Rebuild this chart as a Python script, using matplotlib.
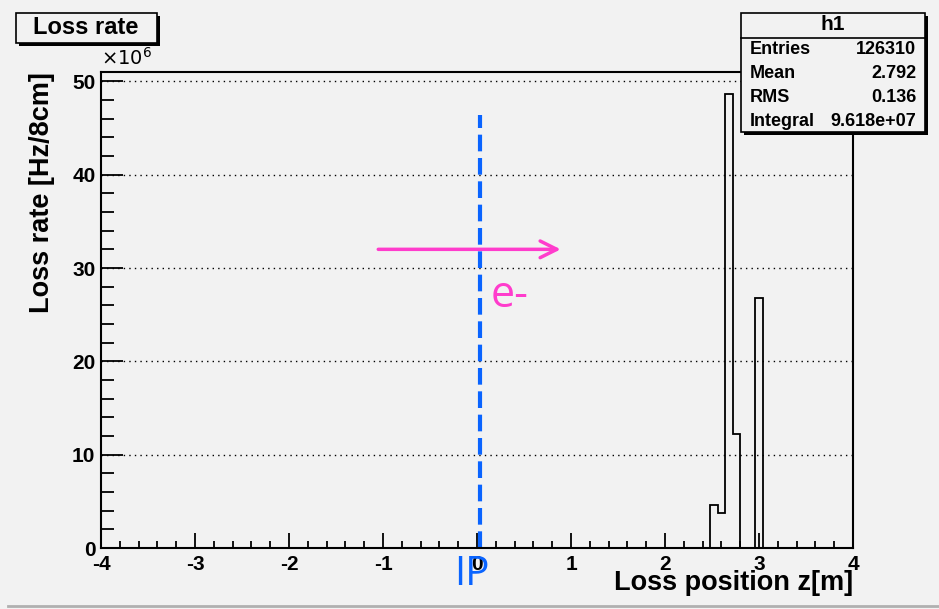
import numpy as np
import matplotlib.pyplot as plt
from matplotlib.patches import Rectangle
from matplotlib.lines import Line2D
from matplotlib.ticker import MultipleLocator

# loss rate per 8cm bin, in units of 1e6 Hz
bin_edges = [2.48, 2.56, 2.64, 2.72, 2.80, 2.88, 2.96, 3.04]
loss_rate = [4.6, 3.7, 48.6, 12.2, 0.0, 0.0, 26.8]

stat_names = ["Entries", "Mean", "RMS", "Integral"]
stat_values = ["126310", "2.792", "0.136", "9.618e+07"]

plt.rcParams['font.family'] = ['Liberation Sans', 'DejaVu Sans']
plt.rcParams['axes.unicode_minus'] = False

bg = '#f2f2f2'
fig = plt.figure(figsize=(9.39, 6.09), dpi=100, facecolor=bg)
ax = fig.add_axes([101/939, 61/609, 752/939, 476/609])
ax.set_facecolor(bg)

ax.stairs(loss_rate, bin_edges, color='black', lw=1.3)

ax.set_xlim(-4, 4)
ax.set_ylim(0, 51)
ax.xaxis.set_major_locator(MultipleLocator(1))
ax.xaxis.set_minor_locator(MultipleLocator(0.2))
ax.yaxis.set_major_locator(MultipleLocator(10))
ax.yaxis.set_minor_locator(MultipleLocator(2))
ax.tick_params(axis='both', which='both', direction='in', width=1.3, colors='black')
ax.tick_params(axis='x', which='major', length=11, labelsize=15, pad=5)
ax.tick_params(axis='x', which='minor', length=5)
ax.tick_params(axis='y', which='major', length=16, labelsize=15, pad=4)
ax.tick_params(axis='y', which='minor', length=9)
for lab in ax.get_xticklabels() + ax.get_yticklabels():
    lab.set_fontweight('bold')
for s in ax.spines.values():
    s.set_linewidth(1.5)

for yv in range(10, 51, 10):
    ax.axhline(yv, color='black', lw=1.0, ls=(0, (1, 3)), zorder=0)

ax.set_xlabel('Loss position z[m]', fontsize=19.5, fontweight='bold', loc='right', labelpad=-3)
ax.set_ylabel('Loss rate [Hz/8cm]', fontsize=19.5, fontweight='bold', loc='top', labelpad=12)

fig.text(101/939, 1 - 58/609, r'$\times10^{6}$', fontsize=14, ha='left', va='center')

# IP marker and beam direction
ax.plot([0.03, 0.03], [0, 46.4], color='#0a64ff', lw=3, ls=(0, (4, 1.6)))
ax.annotate('', xy=(0.92, 32.0), xytext=(-1.08, 32.0),
            arrowprops=dict(arrowstyle='->', color='#ff3ccc', lw=2.5, mutation_scale=30))
ax.text(0.15, 27.0, 'e-', color='#ff3ccc', fontsize=31, family='Open Sans', va='center', ha='left')
fig.text(472/939, 1 - 575/609, 'IP', color='#0a64ff', fontsize=29, family='Open Sans', ha='center', va='center')

# title box
fig.patches.append(Rectangle((19/939, 1 - 46/609), 141/939, 30/609, transform=fig.transFigure,
                             facecolor='black', edgecolor='none'))
fig.patches.append(Rectangle((16/939, 1 - 43/609), 141/939, 30/609, transform=fig.transFigure,
                             facecolor=bg, edgecolor='black', lw=1.2))
fig.text(86/939, 1 - 28/609, 'Loss rate', fontsize=17, fontweight='bold', ha='center', va='center')

# stats box
bx0, bx1, by0, by1 = 741, 925, 13, 132
fig.patches.append(Rectangle(((bx0 + 3)/939, 1 - (by1 + 3)/609), (bx1 - bx0)/939, (by1 - by0)/609,
                             transform=fig.transFigure, facecolor='black', edgecolor='none', zorder=5))
fig.patches.append(Rectangle((bx0/939, 1 - by1/609), (bx1 - bx0)/939, (by1 - by0)/609,
                             transform=fig.transFigure, facecolor=bg, edgecolor='black', lw=1.2, zorder=6))
fig.add_artist(Line2D([bx0/939, bx1/939], [1 - 38/609, 1 - 38/609], color='black', lw=1.2, zorder=7))
fig.text((bx0 + bx1)/2/939, 1 - 25/609, 'h1', fontsize=15, fontweight='bold', ha='center', va='center', zorder=8)
for i, (nm, vl) in enumerate(zip(stat_names, stat_values)):
    yy = 1 - (50 + 24*i)/609
    fig.text((bx0 + 9)/939, yy, nm, fontsize=13, fontweight='bold', ha='left', va='center', zorder=8)
    fig.text((bx1 - 9)/939, yy, vl, fontsize=13, fontweight='bold', ha='right', va='center', zorder=8)

fig.add_artist(Line2D([8/939, 1], [1 - 606/609, 1 - 606/609], color='#b0b0b0', lw=2))

fig.savefig('out.png', dpi=100, facecolor=bg)
